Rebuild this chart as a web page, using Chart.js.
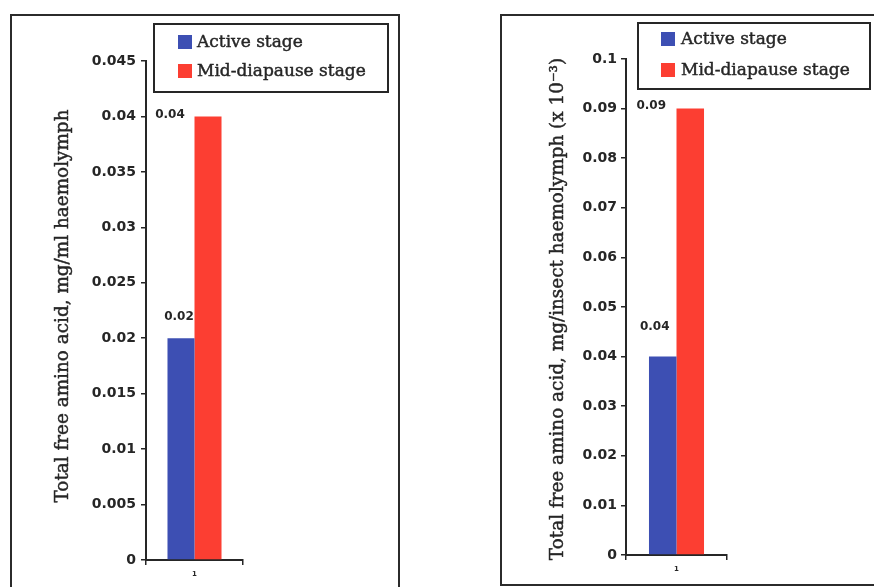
<!DOCTYPE html>
<html>
<head>
<meta charset="utf-8">
<script src="https://cdn.jsdelivr.net/npm/chart.js@4"></script>
<style>
  html, body { margin: 0; padding: 0; background: #ffffff; width: 874px; height: 587px; overflow: hidden; }
  .panel { position: absolute; box-sizing: border-box; border: 2px solid #2b2b2b; background: #fff; }
  #panelA { left: 10px; top: 14px; width: 390px; height: 600px; }
  #panelB { left: 500px; top: 14px; width: 420px; height: 572px; }
  canvas { position: absolute; }
  #chartA { left: 12px; top: 16px; }
  #chartB { left: 502px; top: 16px; }
</style>
</head>
<body>
<div class="panel" id="panelA"></div>
<div class="panel" id="panelB"></div>
<canvas id="chartA" width="386" height="571"></canvas>
<canvas id="chartB" width="372" height="568"></canvas>
<script>
// Categories and series
const categories = ['1'];
const seriesNames = ['Active stage', 'Mid-diapause stage'];

// Amino acid per ml of haemolymph
const perMlActive = [0.02];
const perMlDiapause = [0.04];

// Amino acid per insect (x 10^-3)
const perInsectActive = [0.04];
const perInsectDiapause = [0.09];

// Value axis tick labels
const perMlTicks = ['0', '0.005', '0.01', '0.015', '0.02', '0.025', '0.03', '0.035', '0.04', '0.045'];
const perInsectTicks = ['0', '0.01', '0.02', '0.03', '0.04', '0.05', '0.06', '0.07', '0.08', '0.09', '0.1'];

const perMlTitle = 'Total free amino acid, mg/ml haemolymph';
const perInsectTitle = 'Total free amino acid, mg/insect haemolymph (x 10\u207B\u00B3)';

const BLUE = '#3d4fb3';
const RED = '#fc3e32';
const INK = '#262626';

// Serif text with a touch of extra weight
function heavyText(ctx, text, x, y) {
  ctx.fillText(text, x, y);
  ctx.lineWidth = 0.45;
  ctx.strokeStyle = ctx.fillStyle;
  ctx.strokeText(text, x, y);
}

// Boxed legend drawn inside the plot frame
const boxLegend = {
  id: 'boxLegend',
  afterDraw(chart, args, o) {
    const ctx = chart.ctx;
    ctx.save();
    ctx.fillStyle = '#ffffff';
    ctx.fillRect(o.x, o.y, o.w, o.h);
    ctx.lineWidth = 2;
    ctx.strokeStyle = INK;
    ctx.strokeRect(o.x, o.y, o.w, o.h);
    ctx.font = o.font;
    ctx.textBaseline = 'middle';
    ctx.textAlign = 'left';
    chart.data.datasets.forEach((ds, i) => {
      const sy = o.rows[i];
      ctx.fillStyle = ds.backgroundColor;
      ctx.fillRect(o.sx, sy, o.sw, o.sw);
      ctx.fillStyle = INK;
      heavyText(ctx, ds.label, o.tx, sy + o.sw / 2 + 1);
    });
    ctx.restore();
  }
};

// Rotated value axis title
const sideTitle = {
  id: 'sideTitle',
  afterDraw(chart, args, o) {
    const ctx = chart.ctx;
    ctx.save();
    ctx.translate(o.x, o.y);
    ctx.rotate(-Math.PI / 2);
    ctx.font = o.font;
    ctx.fillStyle = INK;
    ctx.textAlign = 'center';
    ctx.textBaseline = 'middle';
    heavyText(ctx, o.text, 0, 0);
    ctx.restore();
  }
};

// Value labels next to each bar top
const barValues = {
  id: 'barValues',
  afterDatasetsDraw(chart, args, o) {
    const ctx = chart.ctx;
    ctx.save();
    ctx.font = o.font;
    ctx.fillStyle = INK;
    ctx.textAlign = 'center';
    ctx.textBaseline = 'middle';
    chart.data.datasets.forEach((ds, i) => {
      const meta = chart.getDatasetMeta(i);
      meta.data.forEach((bar, j) => {
        const off = o.offsets[i];
        ctx.fillText(ds.data[j].toFixed(2), bar.x + off[0], bar.y + off[1]);
      });
    });
    ctx.restore();
  }
};

function makeChart(id, cfg) {
  return new Chart(document.getElementById(id), {
    type: 'bar',
    data: {
      labels: categories,
      datasets: [
        { label: seriesNames[0], data: cfg.active, backgroundColor: BLUE },
        { label: seriesNames[1], data: cfg.diapause, backgroundColor: RED }
      ]
    },
    options: {
      responsive: false,
      animation: false,
      devicePixelRatio: 1,
      layout: { padding: cfg.padding },
      datasets: { bar: { categoryPercentage: cfg.catPct, barPercentage: 1.0 } },
      plugins: {
        legend: { display: false },
        tooltip: { enabled: false },
        boxLegend: cfg.legend,
        sideTitle: cfg.title,
        barValues: { font: 'bold 12px "DejaVu Sans"', offsets: cfg.labelOffsets }
      },
      scales: {
        x: {
          offset: true,
          grid: { display: true, drawOnChartArea: false, offset: true, drawTicks: true, tickLength: 5, color: INK, lineWidth: 1.5 },
          border: { display: true, color: INK, width: 2 },
          ticks: { color: INK, font: { family: 'DejaVu Sans', size: 7, weight: 'bold' }, padding: 5 },
          afterFit(s) { s.height = cfg.xHeight; }
        },
        y: {
          min: 0,
          max: cfg.max,
          ticks: {
            stepSize: cfg.step,
            color: INK,
            font: { family: 'DejaVu Sans', size: 14, weight: 'bold' },
            padding: cfg.tickPad,
            callback: (v, i) => cfg.tickLabels[i]
          },
          grid: { display: true, drawOnChartArea: false, drawTicks: true, tickLength: 5, color: INK, lineWidth: 1.5 },
          border: { display: true, color: INK, width: 2 },
          afterFit(s) { s.width = cfg.yWidth; }
        }
      }
    },
    plugins: [boxLegend, sideTitle, barValues]
  });
}

makeChart('chartA', {
  active: perMlActive,
  diapause: perMlDiapause,
  max: 0.045,
  step: 0.005,
  tickLabels: perMlTicks,
  padding: { left: 0, top: 45, right: 155, bottom: 0 },
  yWidth: 134,
  xHeight: 27,
  tickPad: 5,
  catPct: 0.557,
  labelOffsets: [[-2, -21], [-38, -2]],
  legend: { x: 142, y: 8, w: 234, h: 68, sx: 166, sw: 14, rows: [19, 48], tx: 185, font: '17px "DejaVu Serif"' },
  title: { x: 51, y: 290, text: perMlTitle, font: '18.4px "DejaVu Serif"' }
});

makeChart('chartB', {
  active: perInsectActive,
  diapause: perInsectDiapause,
  max: 0.1,
  step: 0.01,
  tickLabels: perInsectTicks,
  padding: { left: 0, top: 43, right: 147, bottom: 0 },
  yWidth: 124,
  xHeight: 29,
  tickPad: 4,
  catPct: 0.545,
  labelOffsets: [[-8, -30], [-39, -3]],
  legend: { x: 136, y: 7, w: 232, h: 66, sx: 159, sw: 14, rows: [16, 47], tx: 179, font: '17px "DejaVu Serif"' },
  title: { x: 56, y: 293, text: perInsectTitle, font: '18.4px "DejaVu Serif"' }
});
</script>
</body>
</html>
